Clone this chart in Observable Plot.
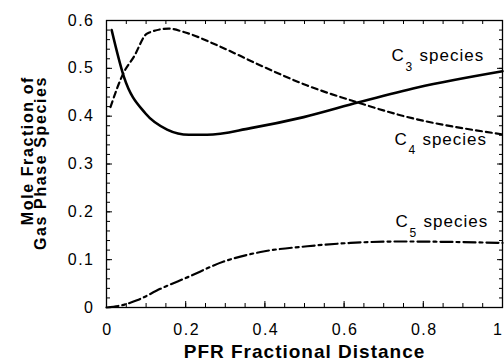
<!DOCTYPE html>
<html><head><meta charset="utf-8">
<script src="https://cdn.jsdelivr.net/npm/d3@7"></script>
<script src="https://cdn.jsdelivr.net/npm/@observablehq/plot@0.6"></script>
<style>
body{margin:0;background:#fff}
.tl text, text.tl{letter-spacing:1.5px}
.lbl text, text.lbl{letter-spacing:1px}
</style>
</head><body><div id="chart"></div>
<script>
const c3x = [0.013,0.044,0.098,0.153,0.208,0.254,0.364,0.498,0.637,0.785,1.0];
const c3y = [0.580,0.482,0.406,0.372,0.361,0.361,0.375,0.398,0.429,0.460,0.494];
const c4x = [0.01,0.044,0.069,0.103,0.157,0.195,0.28,0.389,0.507,0.633,0.742,1.0];
const c4y = [0.419,0.492,0.524,0.573,0.583,0.576,0.548,0.506,0.464,0.429,0.402,0.362];
const c5x = [0.0,0.035,0.077,0.136,0.204,0.296,0.389,0.507,0.616,0.742,1.0];
const c5y = [0.0,0.004,0.015,0.039,0.063,0.096,0.116,0.128,0.135,0.138,0.135];
const xTicks = [0,0.2,0.4,0.6,0.8,1];
const xTickLabels = ["0","0.2","0.4","0.6","0.8","1"];
const yTicks = [0,0.1,0.2,0.3,0.4,0.5,0.6];
const yTickLabels = ["0","0.1","0.2","0.3","0.4","0.5","0.6"];
const labelSpecies = ["C","C","C"];
const labelSub = ["3","4","5"];
const labelWord = ["species","species","species"];
const labelX = [0.72,0.727,0.73];
const labelY = [0.526,0.352,0.179];
const xTitle = "PFR Fractional Distance";
const yTitle = ["Mole Fraction of","Gas Phase Species"];

const zip = (xs, ys) => xs.map((x,i)=>({x, y: ys[i]}));
const xMinor = d3.range(0, 1.0001, 0.05);
const yMinor = d3.range(0, 0.6001, 0.02);
const font = "'Liberation Sans', Arial, sans-serif";
const lab = labelX.map((x,i)=>({x, y: labelY[i], c: labelSpecies[i], s: labelSub[i], w: labelWord[i]}));
const fmtX = d => xTickLabels[xTicks.indexOf(d)];
const fmtY = d => yTickLabels[yTicks.indexOf(d)];

const plot = Plot.plot({
  width: 504, height: 361,
  marginLeft: 106, marginRight: 2, marginTop: 20, marginBottom: 54,
  style: {fontFamily: font, fontSize: "16px", color: "#000", background: "#fff"},
  x: {domain: [0,1]},
  y: {domain: [0,0.6]},
  marks: [
    Plot.axisX({ticks: xTicks.slice(0,-1), tickFormat: fmtX, tickSize: 0, tickPadding: 16, fontSize: 16, dx: 1, label: null, className: "tl"}),
    Plot.axisX({ticks: xTicks.slice(-1), tickFormat: fmtX, tickSize: 0, tickPadding: 16, fontSize: 16, textAnchor: "end", dx: 1, label: null, className: "tl"}),
    Plot.axisX({ticks: xTicks, tickSize: 6, dy: -6, text: null, label: null}),
    Plot.axisX({ticks: xMinor, tickSize: 4, dy: -4, text: null, label: null}),
    Plot.axisX({anchor: "top", ticks: xMinor, tickSize: 3, dy: 3, text: null, label: null}),
    Plot.axisY({ticks: yTicks, tickFormat: fmtY, tickSize: 0, tickPadding: 12, fontSize: 16, label: null, className: "tl"}),
    Plot.axisY({ticks: yTicks, tickSize: 6, dx: 6, text: null, label: null}),
    Plot.axisY({ticks: yMinor, tickSize: 4, dx: 4, text: null, label: null}),
    Plot.axisY({anchor: "right", ticks: yTicks, tickSize: 6, dx: -6, text: null, label: null}),
    Plot.axisY({anchor: "right", ticks: yMinor, tickSize: 4, dx: -4, text: null, label: null}),
    Plot.frame({stroke: "#000", strokeWidth: 1.3}),
    Plot.line(zip(c3x,c3y), {x:"x", y:"y", curve:"monotone-x", stroke:"#000", strokeWidth:2.6}),
    Plot.line(zip(c4x,c4y), {x:"x", y:"y", curve:"monotone-x", stroke:"#000", strokeWidth:2.2, strokeDasharray:"6,4"}),
    Plot.line(zip(c5x,c5y), {x:"x", y:"y", curve:"monotone-x", stroke:"#000", strokeWidth:2.2, strokeDasharray:"12,4,3,4"}),
    Plot.text(lab, {x:"x", y:"y", text:"c", textAnchor:"start", fontSize:17, fill:"#000", className:"lbl"}),
    Plot.text(lab, {x:"x", y:"y", text:"s", textAnchor:"start", fontSize:12, dx:14, dy:11, fill:"#000"}),
    Plot.text(lab, {x:"x", y:"y", text:"w", textAnchor:"start", fontSize:17, dx:28, fill:"#000", className:"lbl"}),
    Plot.text([xTitle], {frameAnchor:"bottom", lineAnchor:"bottom", text: d => d, dy: 50, fontSize: 19, fontWeight: "bold", fill: "#000", className: "lbl"})
  ]
});
const wrap = document.createElement("div");
wrap.style.position = "relative"; wrap.style.width = "504px"; wrap.style.height = "361px"; wrap.style.overflow = "hidden";
wrap.appendChild(plot);
yTitle.forEach((t, i) => {
  const yl = document.createElement("div");
  yl.textContent = t;
  yl.style.cssText = `position:absolute;left:${20 + i*13}px;top:256px;width:180px;text-align:right;transform-origin:0 0;transform:rotate(-90deg);font:bold 16px ${font};line-height:16px;letter-spacing:1.6px;white-space:nowrap;`;
  wrap.appendChild(yl);
});
document.getElementById("chart").appendChild(wrap);
</script>
</body></html>
